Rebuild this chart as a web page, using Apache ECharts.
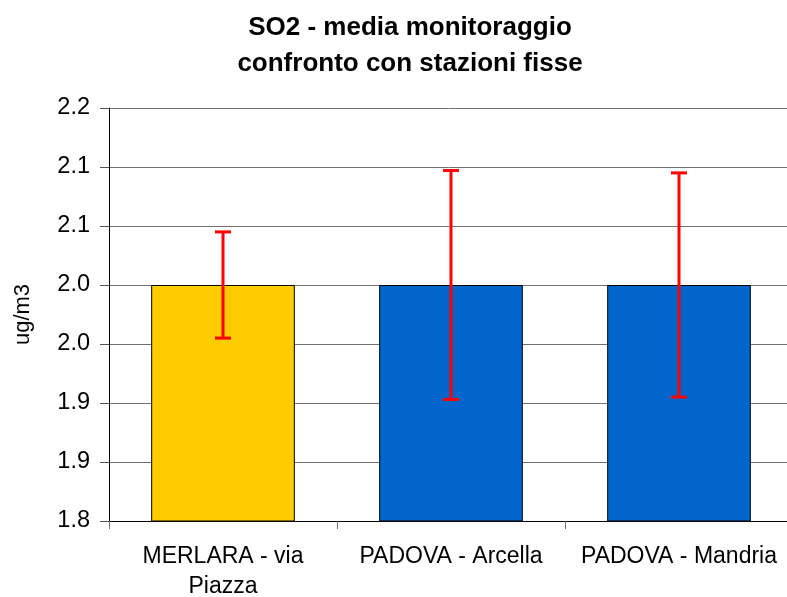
<!DOCTYPE html>
<html>
<head>
<meta charset="utf-8">
<script src="https://cdn.jsdelivr.net/npm/echarts@6/dist/echarts.min.js"></script>
<style>
  html, body { margin: 0; padding: 0; background: #fff; }
  #chart { width: 787px; height: 597px; }
</style>
</head>
<body>
<div id="chart"></div>
<script>
// data
const categories = ['MERLARA - via\nPiazza', 'PADOVA - Arcella', 'PADOVA - Mandria'];
const means = [2.00, 2.00, 2.00];
const errLow = [1.955, 1.903, 1.905];
const errHigh = [2.045, 2.097, 2.095];
const barColors = ['#FFCC00', '#0066CC', '#0066CC'];

const chart = echarts.init(document.getElementById('chart'));
const font = 'Liberation Sans, Arial, sans-serif';

const option = {
    animation: false,
    title: {
        text: 'SO2 - media monitoraggio\nconfronto con stazioni fisse',
        left: 405,
        textAlign: 'center',
        top: 5,
        textStyle: {
            fontFamily: font,
            fontSize: 26,
            fontWeight: 'bold',
            color: '#000',
            lineHeight: 36
        }
    },
    grid: {
        left: 109,
        right: -6,
        top: 108,
        bottom: 76,
        outerBoundsMode: 'none'
    },
    xAxis: {
        type: 'category',
        data: categories,
        axisLine: { lineStyle: { color: '#000', width: 1 } },
        axisTick: { show: true, length: 8, lineStyle: { color: '#707070' } },
        axisLabel: {
            interval: 0,
            hideOverlap: false,
            fontFamily: font,
            fontSize: 23,
            color: '#000',
            margin: 21,
            lineHeight: 30
        }
    },
    yAxis: {
        type: 'value',
        min: 1.8,
        max: 2.15,
        interval: 0.05,
        name: 'ug/m3',
        nameLocation: 'middle',
        nameGap: 75,
        nameRotate: 90,
        nameTextStyle: { fontFamily: font, fontSize: 22, color: '#000' },
        axisLine: { show: true, lineStyle: { color: '#000', width: 1 } },
        axisTick: { show: true, length: 9, lineStyle: { color: '#505050' } },
        axisLabel: {
            fontFamily: font,
            fontSize: 23.5,
            color: '#000',
            margin: 19,
            formatter: function (v) {
                return (Math.round(v * 10 + 1e-9) / 10).toFixed(1);
            }
        },
        splitLine: { show: true, lineStyle: { color: '#707070', width: 1 } }
    },
    series: [
        {
            type: 'bar',
            barWidth: '63%',
            data: means.map(function (v, i) {
                return {
                    value: v,
                    itemStyle: { color: barColors[i], borderColor: '#000', borderWidth: 1 }
                };
            }),
            z: 2
        },
        {
            type: 'custom',
            z: 5,
            data: categories.map(function (c, i) { return [i, errLow[i], errHigh[i]]; }),
            renderItem: function (params, api) {
                const lo = api.coord([api.value(0), api.value(1)]);
                const hi = api.coord([api.value(0), api.value(2)]);
                const half = 8;
                const style = { stroke: '#FF0000', lineWidth: 3 };
                return {
                    type: 'group',
                    children: [
                        { type: 'line', shape: { x1: hi[0], y1: hi[1], x2: lo[0], y2: lo[1] }, style: style },
                        { type: 'line', shape: { x1: hi[0] - half, y1: hi[1], x2: hi[0] + half, y2: hi[1] }, style: style },
                        { type: 'line', shape: { x1: lo[0] - half, y1: lo[1], x2: lo[0] + half, y2: lo[1] }, style: style }
                    ]
                };
            }
        }
    ]
};

chart.setOption(option);
</script>
</body>
</html>
